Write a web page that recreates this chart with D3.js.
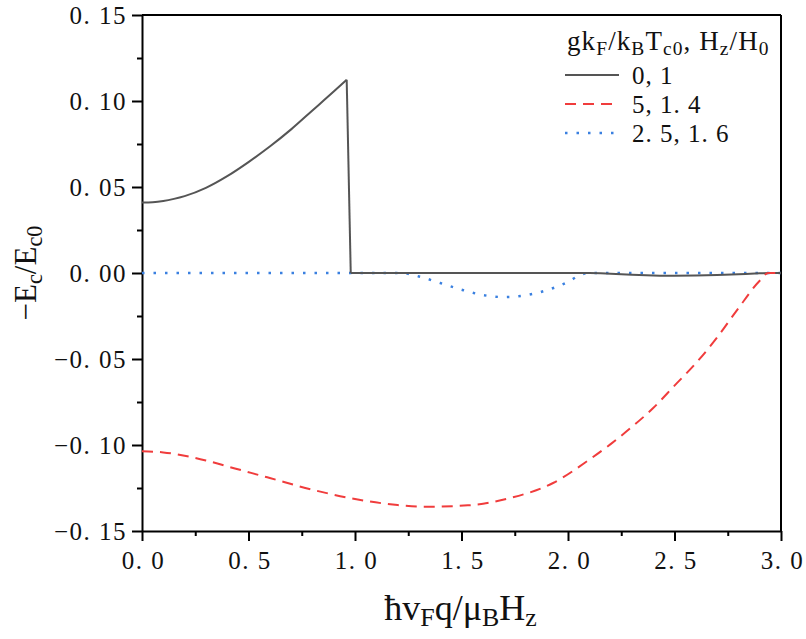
<!DOCTYPE html>
<html>
<head>
<meta charset="utf-8">
<script src="https://cdn.jsdelivr.net/npm/d3@7"></script>
<style>
  body { margin: 0; background: #fff; }
  svg, svg text { font-family: "Liberation Serif", "DejaVu Serif", serif; }
</style>
</head>
<body>
<svg id="chart" width="806" height="639"></svg>
<script>
// series
const blackX = [0, 0.05, 0.1, 0.15, 0.2, 0.3, 0.4, 0.5, 0.6, 0.7, 0.8, 0.9, 0.961, 0.98, 1.2, 1.5, 1.8, 2.1, 2.2, 2.3, 2.4, 2.5, 2.6, 2.7, 2.8, 2.9, 2.95, 3.0];
const blackY = [0.0410, 0.0412, 0.0419, 0.0431, 0.0447, 0.0495, 0.0563, 0.0645, 0.0735, 0.0835, 0.0945, 0.1055, 0.1124, 0, 0, 0, 0, 0, -0.0004, -0.0010, -0.0014, -0.0016, -0.0015, -0.0012, -0.0007, -0.0002, 0, 0];
const blackPeak = 12; // index where the curve drops to zero

const redX = [0, 0.1, 0.2, 0.3, 0.4, 0.6, 0.8, 1.0, 1.2, 1.33, 1.53, 1.73, 1.93, 2.1, 2.2, 2.3, 2.4, 2.5, 2.6, 2.7, 2.8, 2.9, 2.94, 3.0];
const redY = [-0.1037, -0.1043, -0.1062, -0.1090, -0.1124, -0.1192, -0.1260, -0.1314, -0.1349, -0.1359, -0.1351, -0.1308, -0.1221, -0.1085, -0.0995, -0.0895, -0.0785, -0.0655, -0.0525, -0.0375, -0.0205, -0.0045, 0, 0];

const blueX = [0, 0.5, 1.0, 1.2, 1.25, 1.3, 1.4, 1.5, 1.6, 1.7, 1.8, 1.9, 2.0, 2.06, 2.1, 2.5, 3.0];
const blueY = [0, 0, 0, 0, -0.0005, -0.0020, -0.0058, -0.0097, -0.0128, -0.0140, -0.0130, -0.0100, -0.0052, -0.0010, 0, 0, 0];

const seriesNames = ["0, 1", "5, 1. 4", "2. 5, 1. 6"];
const seriesColors = ["#555555", "#f03c3c", "#3a80e0"];
const seriesDash = [null, "11,7", "2.5,9"];

const xTicks = [0, 0.5, 1.0, 1.5, 2.0, 2.5, 3.0];
const yTicks = [-0.15, -0.10, -0.05, 0.00, 0.05, 0.10, 0.15];

const svg = d3.select("#chart");
const margin = { top: 15, right: 25, bottom: 108, left: 142 };
const width = 806 - margin.left - margin.right;
const height = 639 - margin.top - margin.bottom;

const g = svg.append("g").attr("transform", `translate(${margin.left},${margin.top})`);

const x = d3.scaleLinear().domain([0, 3]).range([0, width]);
const y = d3.scaleLinear().domain([-0.15, 0.15]).range([height, 0]);

const fmtTick = (f) => (d) => f(d).replace("-", "\u2212").replace(".", ". ");

// minor ticks
g.append("g")
    .attr("transform", `translate(0,${height})`)
    .call(d3.axisBottom(x).tickValues(d3.range(0.25, 3, 0.5)).tickSize(5).tickFormat(""))
    .call(a => a.select(".domain").remove());
g.append("g")
    .call(d3.axisLeft(y).tickValues(d3.range(-0.125, 0.15, 0.05)).tickSize(5).tickFormat(""))
    .call(a => a.select(".domain").remove());

const xAxis = g.append("g")
    .attr("transform", `translate(0,${height})`)
    .call(d3.axisBottom(x).tickValues(xTicks).tickSize(10).tickSizeOuter(0).tickPadding(10).tickFormat(fmtTick(d3.format(".1f"))));
const yAxis = g.append("g")
    .call(d3.axisLeft(y).tickValues(yTicks).tickSize(10).tickSizeOuter(0).tickPadding(5).tickFormat(fmtTick(d3.format(".2f"))));

g.selectAll("g").attr("font-family", null);
g.selectAll(".tick line").attr("stroke", "#000").attr("stroke-width", 2);
g.selectAll(".domain").attr("stroke", "#000").attr("stroke-width", 2);
xAxis.selectAll("text").attr("font-size", 25).attr("fill", "#111").attr("dy", "0.7em")
    .attr("letter-spacing", 1.5).attr("dx", 1);
yAxis.selectAll("text").attr("font-size", 25).attr("fill", "#111").attr("letter-spacing", 1.5);

// frame top and right
g.append("line").attr("x1", 0).attr("x2", width).attr("y1", 0).attr("y2", 0)
    .attr("stroke", "#000").attr("stroke-width", 2);
g.append("line").attr("x1", width).attr("x2", width).attr("y1", 0).attr("y2", height)
    .attr("stroke", "#000").attr("stroke-width", 2);

const smooth = d3.line().curve(d3.curveMonotoneX).x(d => x(d[0])).y(d => y(d[1]));
const straight = d3.line().x(d => x(d[0])).y(d => y(d[1]));

const blackPts = d3.zip(blackX, blackY);
const redPts = d3.zip(redX, redY);
const bluePts = d3.zip(blueX, blueY);

function drawPath(pts, gen, i) {
    g.append("path")
        .datum(pts)
        .attr("class", "line")
        .attr("fill", "none")
        .attr("stroke", seriesColors[i])
        .attr("stroke-width", i === 2 ? 2.5 : 2)
        .attr("stroke-linejoin", "round")
        .attr("stroke-dasharray", seriesDash[i])
        .attr("d", gen);
}

drawPath(bluePts, smooth, 2);
// black: smooth rise, straight drop, smooth tail
drawPath(blackPts.slice(0, blackPeak + 1), smooth, 0);
drawPath(blackPts.slice(blackPeak, blackPeak + 2), straight, 0);
drawPath(blackPts.slice(blackPeak + 1), smooth, 0);
drawPath(redPts, smooth, 1);

// text made of [string, isSubscript] parts
function rich(t, parts, shift) {
    let down = false;
    parts.forEach(([s, isSub]) => {
        const sp = t.append("tspan").text(s);
        if (isSub) sp.attr("font-size", "0.72em");
        if (isSub && !down) { sp.attr("dy", shift); down = true; }
        else if (!isSub && down) { sp.attr("dy", -shift); down = false; }
    });
}

// legend
const legend = svg.append("g").attr("transform", "translate(567,0)");
const lt = legend.append("text").attr("x", 0).attr("y", 50)
    .attr("font-size", 27).attr("letter-spacing", 1.1).attr("fill", "#111");
rich(lt, [["gk", 0], ["F", 1], ["/k", 0], ["B", 1], ["T", 0], ["c0", 1], [", H", 0], ["z", 1], ["/H", 0], ["0", 1]], 5);

const rowY = [75, 104, 133];
seriesNames.forEach((name, i) => {
    legend.append("line")
        .attr("x1", -2).attr("x2", 52)
        .attr("y1", rowY[i]).attr("y2", rowY[i])
        .attr("stroke", seriesColors[i])
        .attr("stroke-width", i === 2 ? 2.5 : 2)
        .attr("stroke-dasharray", seriesDash[i]);
    legend.append("text")
        .attr("x", 65).attr("y", rowY[i] + 9)
        .attr("font-size", 25).attr("fill", "#111")
        .attr("letter-spacing", 1)
        .text(name);
});

// axis titles
const xt = svg.append("text")
    .attr("x", margin.left + width / 2 - 1).attr("y", 620)
    .attr("text-anchor", "middle").attr("font-size", 36).attr("fill", "#111");
rich(xt, [["\u0127v", 0], ["F", 1], ["q/\u03bc", 0], ["B", 1], ["H", 0], ["z", 1]], 6);

const yt = svg.append("text")
    .attr("transform", `translate(36,${margin.top + height / 2}) rotate(-90)`)
    .attr("text-anchor", "middle").attr("font-size", 31).attr("fill", "#111");
rich(yt, [["\u2212E", 0], ["c", 1], ["/E", 0], ["c0", 1]], 6);
</script>
</body>
</html>
